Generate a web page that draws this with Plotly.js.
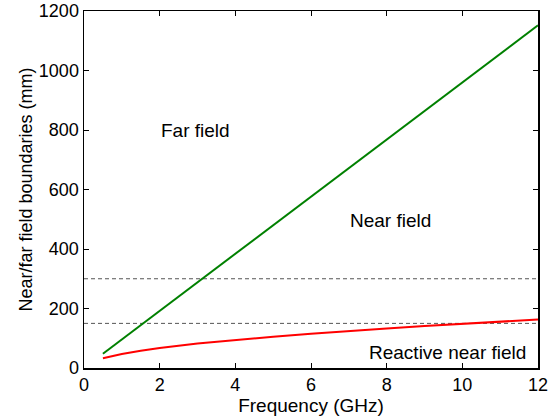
<!DOCTYPE html>
<html><head><meta charset="utf-8">
<script src="https://cdn.plot.ly/plotly-3.0.1.min.js"></script>
<style>html,body{margin:0;padding:0;background:#fff}#chart{width:554px;height:417px}</style>
</head><body><div id="chart"></div>
<script>
const freqGHz = [0.5, 1, 1.5, 2, 3, 4, 5, 6, 7, 8, 9, 10, 11, 12];
const farFieldMm = [48, 96, 144, 192, 288, 384, 480, 576, 672, 768, 864, 960, 1056, 1152];
const reactiveMm = [33, 47, 58, 67, 82, 94, 105, 115, 125, 133, 141, 149, 156, 163];
const refLevels = [300, 150];
const refX = [0, 12];
const regionLabels = ["Far field", "Near field", "Reactive near field"];
const regionX = [2.95, 8.1, 9.62];
const regionY = [800, 495, 52];
const xTicks = [0, 2, 4, 6, 8, 10, 12];
const yTicks = [0, 200, 400, 600, 800, 1000, 1200];

const traces = [];
refLevels.forEach(v => traces.push({x: refX, y: [v, v], mode: 'lines', line: {color: '#555555', width: 1, dash: '4px,3px'}, hoverinfo: 'skip'}));
traces.push({x: freqGHz, y: farFieldMm, mode: 'lines', line: {color: '#008000', width: 2}});
traces.push({x: freqGHz, y: reactiveMm, mode: 'lines', line: {color: '#ff0000', width: 2}});

const fam = 'Arial, Liberation Sans, sans-serif';
const font = {family: fam, size: 18, color: '#000'};
const axisCommon = {showgrid: false, zeroline: false, showline: true, linecolor: '#000', linewidth: 1.5, mirror: 'ticks', ticks: 'inside', ticklen: 5, tickcolor: '#000', tickfont: font};
const layout = {
  width: 554, height: 417, showlegend: false,
  margin: {l: 84, r: 16, t: 11, b: 49},
  paper_bgcolor: '#fff', plot_bgcolor: '#fff', font: font,
  xaxis: Object.assign({}, axisCommon, {range: [0, 12], tickvals: xTicks, title: {text: 'Frequency (GHz)', font: {family: fam, size: 19, color: '#000'}, standoff: 0}}),
  yaxis: Object.assign({}, axisCommon, {range: [0, 1200], tickvals: yTicks, ticklabelstandoff: 0, title: {text: 'Near/far field boundaries (mm)', font: {family: fam, size: 18, color: '#000'}, standoff: 1}}),
  annotations: regionLabels.map((t, i) => ({x: regionX[i], y: regionY[i], xref: 'x', yref: 'y', text: t, showarrow: false, font: {family: fam, size: 19, color: '#000'}}))
};
Plotly.newPlot('chart', traces, layout, {staticPlot: true});
</script></body></html>
